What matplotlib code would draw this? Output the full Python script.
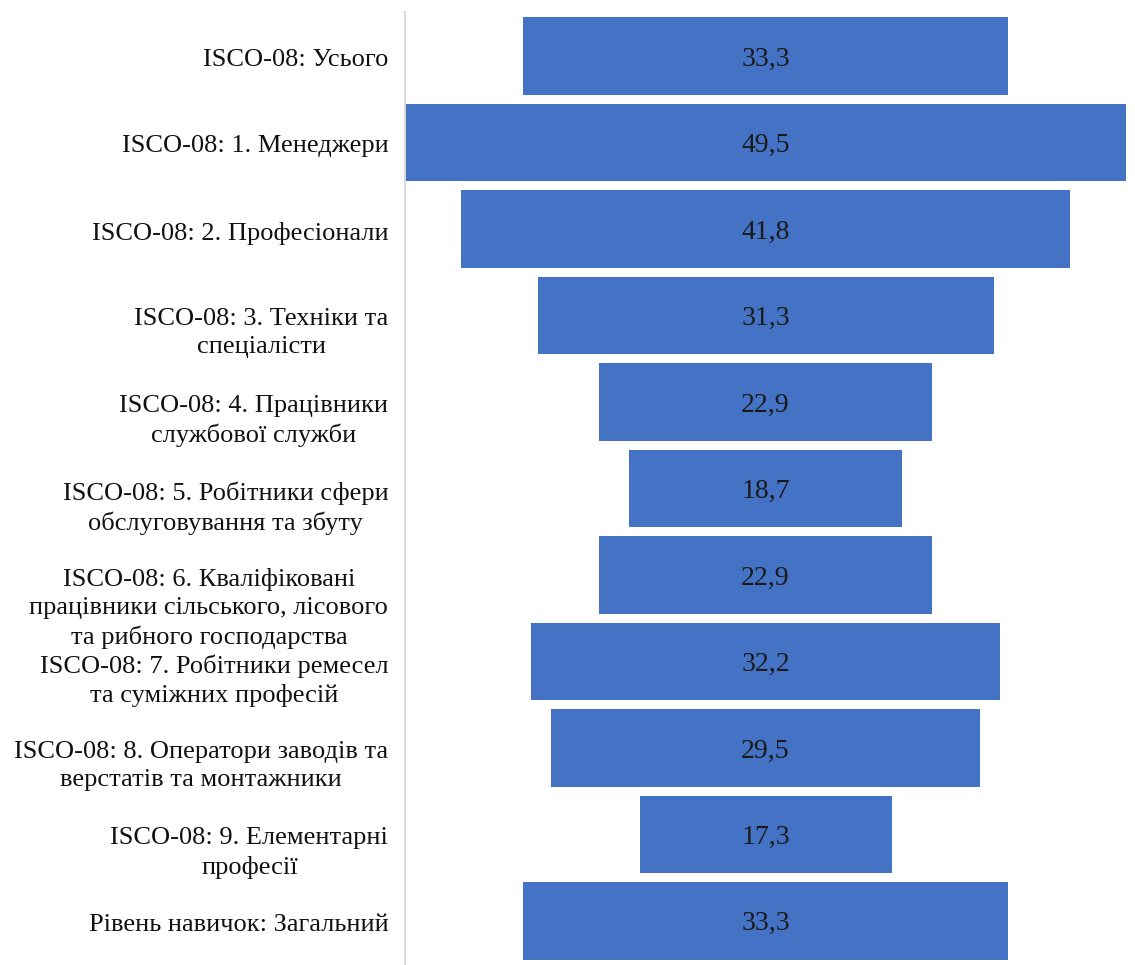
import matplotlib.pyplot as plt

kategorie = [
    "ISCO-08: Усього",
    "ISCO-08: 1. Менеджери",
    "ISCO-08: 2. Професіонали",
    "ISCO-08: 3. Техніки та\nспеціалісти",
    "ISCO-08: 4. Працівники\nслужбової служби",
    "ISCO-08: 5. Робітники сфери\nобслуговування та збуту",
    "ISCO-08: 6. Кваліфіковані\nпрацівники сільського, лісового\nта рибного господарства",
    "ISCO-08: 7. Робітники ремесел\nта суміжних професій",
    "ISCO-08: 8. Оператори заводів та\nверстатів та монтажники",
    "ISCO-08: 9. Елементарні\nпрофесії",
    "Рівень навичок: Загальний",
]
hodnoty = [33.3, 49.5, 41.8, 31.3, 22.9, 18.7, 22.9, 32.2, 29.5, 17.3, 33.3]

plt.rcParams["font.family"] = ["Liberation Serif", "DejaVu Serif"]

fig = plt.figure(figsize=(11.35, 9.65), dpi=100)
ax = fig.add_axes([405 / 1135, 0.0, 1 - 405 / 1135, 1 - 12 / 965])

y = list(range(len(hodnoty)))
ax.barh(y, hodnoty, left=[-v / 2 for v in hodnoty], height=0.9, color="#4472C4")

for i, v in enumerate(hodnoty):
    ax.text(0, i, f"{v:.1f}".replace(".", ","), ha="center", va="center_baseline",
            fontsize=20, color="#1a1a1a")

# popisky - prvy riadok zarovnany na stred pruhu
for i, nazov in enumerate(kategorie):
    ax.annotate(nazov, xy=(0, i), xycoords=("axes fraction", "data"),
                xytext=(-12, 5.3), textcoords="offset points",
                ha="right", va="top", multialignment="center",
                fontsize=19, linespacing=1.36, color="#111111",
                annotation_clip=False)

ax.set_xlim(-24.75, 25.36)
ax.set_ylim(len(hodnoty) - 0.49, -0.51)
ax.set_yticks([])
ax.set_xticks([])
for s in ["top", "right", "bottom"]:
    ax.spines[s].set_visible(False)
ax.spines["left"].set_color("#d9d9d9")
ax.spines["left"].set_linewidth(1.5)

fig.savefig("out.png", dpi=100)
